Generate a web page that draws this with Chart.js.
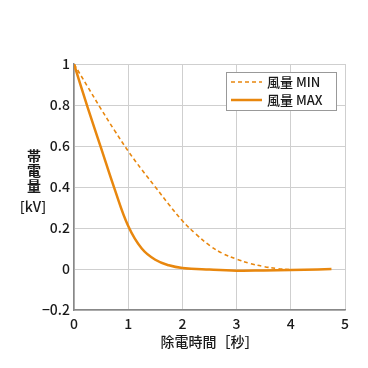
<!DOCTYPE html>
<html>
<head>
<meta charset="utf-8">
<script src="https://cdn.jsdelivr.net/npm/chart.js@4"></script>
<style>
  html, body { margin: 0; padding: 0; background: #fff; }
  #wrap { width: 368px; height: 368px; }
</style>
</head>
<body>
<div id="wrap"><canvas id="myChart" width="368" height="368"></canvas></div>
<script>
const timesMin = [0, 0.25, 0.5, 0.75, 1, 1.25, 1.5, 1.75, 2, 2.25, 2.5, 2.75, 3, 3.25, 3.5, 3.75, 4];
const chargeMin = [1, 0.89, 0.78, 0.675, 0.575, 0.485, 0.4, 0.315, 0.235, 0.17, 0.115, 0.075, 0.048, 0.027, 0.012, 0.002, -0.004];
const timesMax = [0, 0.25, 0.5, 0.75, 1, 1.25, 1.5, 1.75, 2, 2.5, 3, 3.5, 4, 4.5, 4.75];
const chargeMax = [1, 0.79, 0.59, 0.39, 0.21, 0.1, 0.045, 0.018, 0.005, -0.003, -0.008, -0.007, -0.005, -0.002, 0];
const labels = ['風量 MIN', '風量 MAX'];
const xTitle = '除電時間［秒］';
const yTitleChars = ['帯', '電', '量'];
const yUnit = '[kV]';

const orange = '#E8870E';
const font = '"Noto Sans CJK JP", "Noto Sans", sans-serif';

const pairs = (xs, ys) => xs.map((x, i) => ({ x: x, y: ys[i] }));

const overlay = {
  id: 'overlay',
  afterDraw(chart) {
    const c = chart.ctx;
    const a = chart.chartArea;
    c.save();
    // axis titles
    c.fillStyle = '#1a1a1a';
    c.textAlign = 'center';
    c.textBaseline = 'middle';
    c.font = '500 14px ' + font;
    c.fillText(xTitle, (a.left + a.right) / 2, 342);
    c.font = 'bold 14px ' + font;
    yTitleChars.forEach((ch, i) => c.fillText(ch, 34, 156 + i * 15));
    c.font = '500 14px ' + font;
    c.fillText(yUnit, 33, 207);
    // legend box
    const bx = 226, by = 72, bw = 110, bh = 38;
    c.fillStyle = '#fff';
    c.fillRect(bx, by, bw, bh);
    c.strokeStyle = '#999';
    c.lineWidth = 1;
    c.strokeRect(bx + 0.5, by + 0.5, bw, bh);
    chart.data.datasets.forEach((ds, i) => {
      const y = by + 10 + i * 18;
      c.strokeStyle = ds.borderColor;
      c.lineWidth = ds.borderWidth;
      c.setLineDash(ds.borderDash || []);
      c.beginPath();
      c.moveTo(bx + 5, y);
      c.lineTo(bx + 36, y);
      c.stroke();
      c.setLineDash([]);
      c.fillStyle = '#1a1a1a';
      c.textAlign = 'left';
      c.font = '500 13px ' + font;
      c.fillText(ds.label, bx + 41, y);
    });
    c.restore();
  }
};

const ctx = document.getElementById('myChart');

new Chart(ctx, {
  type: 'line',
  data: {
    datasets: [{
      label: labels[0],
      data: pairs(timesMin, chargeMin),
      borderColor: orange,
      borderWidth: 1.6,
      borderDash: [4, 3],
      pointRadius: 0,
      tension: 0.4,
      fill: false
    }, {
      label: labels[1],
      data: pairs(timesMax, chargeMax),
      borderColor: orange,
      borderWidth: 2.5,
      pointRadius: 0,
      tension: 0.4,
      fill: false
    }]
  },
  options: {
    responsive: false,
    animation: false,
    layout: { padding: { left: 0, top: 64, right: 23, bottom: 0 } },
    plugins: {
      legend: { display: false },
      tooltip: { enabled: false }
    },
    scales: {
      x: {
        type: 'linear',
        min: 0,
        max: 5,
        ticks: { stepSize: 1, color: '#1a1a1a', font: { family: font, size: 14, weight: 500 }, padding: 5, maxRotation: 0 },
        grid: { color: '#cfcfcf', drawTicks: false },
        border: { color: '#888', width: 1.5 },
        afterFit(scale) { scale.height = 58; }
      },
      y: {
        min: -0.2,
        max: 1,
        ticks: {
          stepSize: 0.2,
          color: '#1a1a1a',
          font: { family: font, size: 14, weight: 500 },
          padding: 4,
          callback: v => {
            const r = Math.round(v * 10) / 10;
            return r < 0 ? '−' + Math.abs(r) : String(r);
          }
        },
        grid: { color: '#cfcfcf', drawTicks: false },
        border: { color: '#888', width: 1.5 },
        afterFit(scale) { scale.width = 74; }
      }
    }
  },
  plugins: [overlay]
});
</script>
</body>
</html>
